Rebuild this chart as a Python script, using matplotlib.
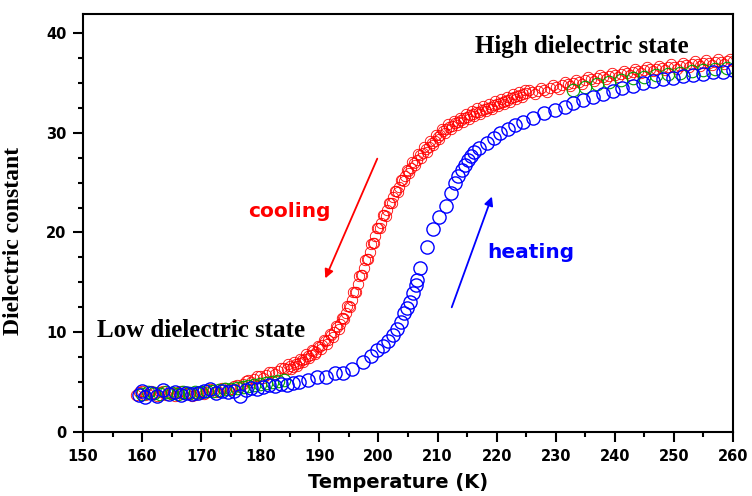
import matplotlib
matplotlib.use('Agg')
import matplotlib.pyplot as plt

# cooling (red), two interleaved sets of points to get the thick band
cool_T = [159, 160, 161, 162, 163, 164, 165, 166, 167, 168, 169, 170, 171, 172, 173, 174, 175, 176, 177, 178,
          179, 180, 181, 182, 183, 184,
          184.5, 185, 185.5, 186, 186.5, 187, 187.5, 188, 188.5, 189, 189.5, 190, 190.5, 191, 191.5, 192, 192.5,
          193, 193.5, 194, 194.5, 195, 195.5, 196, 196.5, 197, 197.5, 198, 198.5, 199, 199.5, 200, 200.5, 201,
          201.5, 202, 202.5, 203, 203.5, 204, 204.5, 205, 205.5, 206, 206.5, 207, 207.5, 208, 208.5, 209, 209.5,
          210, 210.5, 211, 211.5, 212, 212.5, 213, 213.5, 214, 214.5, 215, 215.5, 216, 216.5, 217, 217.5, 218,
          218.5, 219, 219.5, 220, 220.5, 221, 221.5, 222, 222.5, 223, 223.5, 224, 224.5, 225,
          226, 227, 228, 229, 230, 231, 232, 233, 234, 235, 236, 237, 238, 239, 240, 241, 242, 243, 244, 245,
          246, 247, 248, 249, 250, 251, 252, 253, 254, 255, 256, 257, 258, 259, 260]
cool_eps = [3.7, 4.1, 3.8, 3.9, 4.0, 3.7, 3.9, 4.0, 3.8, 3.9, 3.7, 4.1, 4.0, 4.2, 4.0, 4.4, 4.3, 4.7, 4.8, 5.2,
            5.3, 5.6, 5.7, 6.0, 6.1, 6.4,
            6.3, 6.6, 6.5, 6.8, 6.9, 7.2, 7.3, 7.6, 7.7, 8.1, 8.0, 8.5, 8.7, 9.1, 9.2, 9.7, 10.0,
            10.5, 10.8, 11.4, 11.9, 12.6, 13.2, 14.0, 14.8, 15.7, 16.4, 17.3, 18.0, 18.9, 19.6, 20.4, 21.0, 21.8,
            22.3, 23.0, 23.6, 24.2, 24.6, 25.3, 25.7, 26.2, 26.5, 27.0, 27.3, 27.8, 28.0, 28.4, 28.6, 29.0, 29.2,
            29.6, 29.8, 30.2, 30.4, 30.6, 30.7, 31.0, 31.1, 31.3, 31.5, 31.6, 31.8, 31.9, 32.1, 32.1, 32.3, 32.4,
            32.5, 32.6, 32.8, 32.9, 33.0, 33.1, 33.2, 33.3, 33.5, 33.6, 33.7, 33.8, 33.9, 34.0,
            34.1, 34.2, 34.3, 34.5, 34.6, 34.8, 34.9, 35.0, 35.1, 35.3, 35.4, 35.5, 35.6, 35.7, 35.8, 35.9, 36.0,
            36.1, 36.2, 36.3, 36.4, 36.4, 36.5, 36.6, 36.6, 36.7, 36.8, 36.9, 36.9, 37.0, 37.0, 37.1, 37.1, 37.2,
            37.2]
cool_T2 = [159.5, 160.5, 161.5, 162.5, 163.5, 164.5, 165.5, 166.5, 167.5, 168.5, 169.5, 170.5, 171.5, 172.5,
           173.5, 174.5, 175.5, 176.5, 177.5, 178.5, 179.5, 180.5, 181.5, 182.5, 183.5,
           184.75, 185.25, 185.75, 186.25, 186.75, 187.25, 187.75, 188.25, 188.75, 189.25,
           189.75, 190.25, 190.75, 191.25, 191.75, 192.25, 192.75, 193.25, 193.75, 194.25,
           194.75, 195.25, 195.75, 196.25, 196.75, 197.25, 197.75, 198.25, 198.75, 199.25,
           199.75, 200.25, 200.75, 201.25, 201.75, 202.25, 202.75, 203.25, 203.75, 204.25,
           204.75, 205.25, 205.75, 206.25, 206.75, 207.25, 207.75, 208.25, 208.75, 209.25,
           209.75, 210.25, 210.75, 211.25, 211.75, 212.25, 212.75, 213.25, 213.75, 214.25,
           214.75, 215.25, 215.75, 216.25, 216.75, 217.25, 217.75, 218.25, 218.75, 219.25,
           219.75, 220.25, 220.75, 221.25, 221.75, 222.25, 222.75, 223.25, 223.75, 224.25, 224.75,
           225.5, 226.5, 227.5, 228.5, 229.5, 230.5, 231.5, 232.5, 233.5, 234.5, 235.5, 236.5, 237.5, 238.5,
           239.5, 240.5, 241.5, 242.5, 243.5, 244.5, 245.5, 246.5, 247.5, 248.5, 249.5, 250.5, 251.5, 252.5,
           253.5, 254.5, 255.5, 256.5, 257.5, 258.5, 259.5]
cool_eps2 = [4.0, 3.7, 4.1, 3.6, 4.1, 3.9, 3.6, 4.1, 3.9, 3.6, 4.0, 3.8, 4.3, 4.0,
             4.4, 4.2, 4.6, 4.5, 5.1, 5.0, 5.6, 5.4, 6.0, 5.8, 6.4,
             6.8, 6.3, 7.0, 6.6, 7.3, 7.0, 7.8, 7.4, 8.2, 7.8,
             8.6, 8.3, 9.2, 8.8, 9.8, 9.5, 10.6, 10.3, 11.4, 11.3,
             12.6, 12.5, 14.0, 14.0, 15.6, 15.7, 17.2, 17.3, 18.8, 18.9,
             20.4, 20.4, 21.8, 21.7, 23.0, 23.0, 24.2, 24.1, 25.3, 25.2,
             26.3, 26.0, 27.1, 26.8, 27.9, 27.5, 28.6, 28.1, 29.2, 28.8,
             29.8, 29.4, 30.4, 30.0, 30.9, 30.4, 31.2, 30.8, 31.5, 31.1,
             31.9, 31.4, 32.2, 31.7, 32.5, 31.9, 32.7, 32.2, 32.9, 32.4,
             33.2, 32.7, 33.4, 32.9, 33.6, 33.1, 33.9, 33.4, 34.1, 33.6, 34.3,
             34.3, 33.9, 34.5, 34.1, 34.8, 34.4, 35.1, 34.7, 35.3, 34.9, 35.6, 35.2, 35.8, 35.4,
             36.0, 35.6, 36.2, 35.8, 36.4, 36.0, 36.6, 36.2, 36.7, 36.3, 36.9, 36.4, 37.0, 36.6,
             37.2, 36.7, 37.3, 36.8, 37.4, 36.9, 37.4]

# heating (blue)
heat_T = [159.5, 160, 160.5, 161.5, 162.5, 163.5, 164.5, 165.5, 166.5, 167.5, 168.5, 169.5, 170.5, 171.5,
          172.5, 173.5, 174.5, 175.5, 176.5, 177.5, 178.5, 179.5, 180.5, 181.5, 182.5, 183.5, 184.5, 185.5,
          186.5, 188, 189.6, 191.2, 192.7, 194, 195.5, 197.4, 198.7, 199.8, 200.8, 201.6, 202.5, 203.2, 203.9,
          204.3, 204.8, 205.3, 205.8, 206.3, 206.6, 207.1, 208.3, 209.3, 210.2, 211.4, 212.2, 212.9, 213.5,
          214.1, 214.6, 215.1, 215.6, 216.2, 217.0, 218.4, 219.5, 220.6, 221.9, 223.1, 224.5, 226.2, 228.0,
          229.9, 231.6, 233.0, 234.6, 236.3, 238.0, 239.7, 241.3, 243.0, 244.7, 246.4, 248.1, 249.8, 251.5,
          253.2, 254.9, 256.6, 258.3, 260]
heat_eps = [3.7, 4.1, 3.5, 3.9, 3.6, 4.2, 3.8, 4.0, 3.7, 3.9, 3.8, 3.9, 4.1, 4.3,
            3.9, 4.1, 4.0, 4.1, 3.6, 4.2, 4.4, 4.3, 4.5, 4.7, 4.6, 4.8, 4.7, 4.9,
            5.0, 5.2, 5.5, 5.5, 5.9, 5.9, 6.3, 7.0, 7.6, 8.2, 8.6, 9.1, 9.7, 10.3, 11.0,
            11.9, 12.4, 13.0, 13.9, 14.7, 15.2, 16.4, 18.5, 20.3, 21.6, 22.7, 24.0, 25.0, 25.7,
            26.3, 26.8, 27.3, 27.7, 28.1, 28.5, 29.0, 29.5, 30.0, 30.4, 30.8, 31.1, 31.5, 32.0,
            32.3, 32.6, 33.0, 33.3, 33.6, 33.9, 34.2, 34.5, 34.7, 35.0, 35.2, 35.4, 35.5, 35.7,
            35.8, 35.9, 36.1, 36.1, 36.3]

# third run (green), only visible at both ends
green_T = [160, 161, 162, 163, 164, 165, 166, 167, 168, 169, 170, 171, 172, 173, 174, 175, 176, 177, 178,
           179, 180, 181, 182, 183, 184,
           233, 235, 237, 239, 241, 243, 245, 247, 249, 251, 253, 255, 257, 259]
green_eps = [3.8, 4.0, 3.9, 3.8, 4.0, 3.9, 3.8, 4.0, 3.9, 4.0, 4.0, 4.1, 4.1, 4.2, 4.3, 4.3, 4.4, 4.5, 4.6,
             4.7, 4.8, 4.9, 5.0, 5.1, 5.2,
             34.3, 34.6, 34.9, 35.1, 35.3, 35.5, 35.6, 35.8, 35.9, 36.0, 36.2, 36.3, 36.4, 36.5]

fig = plt.figure(figsize=(7.52, 4.96), dpi=100)
ax = fig.add_axes([0.1104, 0.129, 0.8643, 0.8428])

ax.plot(cool_T, cool_eps, 'o', mfc='none', mec='#ff0000', ms=7.5, mew=0.6)
ax.plot(cool_T2, cool_eps2, 'o', mfc='none', mec='#ff0000', ms=7.5, mew=0.6)
ax.plot(green_T, green_eps, 'o', mfc='none', mec='#00a000', ms=9, mew=0.8)
ax.plot(heat_T, heat_eps, 'o', mfc='none', mec='#0000ff', ms=9.5, mew=1.0)

ax.set_xlim(150, 260)
ax.set_ylim(0, 41.9)
ax.set_xticks(range(150, 261, 10))
ax.set_xticks(range(155, 260, 10), minor=True)
ax.set_yticks([0, 10, 20, 30, 40])
ax.set_yticks([2.5, 5, 7.5, 12.5, 15, 17.5, 22.5, 25, 27.5, 32.5, 35, 37.5], minor=True)
ax.tick_params(which='major', direction='out', length=7, width=1.5, top=False, right=False, pad=5)
ax.tick_params(which='minor', direction='out', length=3.5, width=1.5, top=False, right=False)
for lab in ax.get_xticklabels() + ax.get_yticklabels():
    lab.set_fontfamily('DejaVu Sans')
    lab.set_fontweight('bold')
    lab.set_fontsize(10.5)
for sp in ax.spines.values():
    sp.set_linewidth(1.5)

ax.set_xlabel('Temperature (K)', fontfamily='DejaVu Sans', fontweight='bold', fontsize=14)
ax.xaxis.set_label_coords(0.485, -0.097)
ax.set_ylabel('Dielectric constant', fontfamily='Liberation Serif', fontweight='bold', fontsize=17)
ax.yaxis.set_label_coords(-0.091, 0.457)

ax.text(216.3, 38.0, 'High dielectric state', fontfamily='Liberation Serif', fontweight='bold',
        fontsize=18, ha='left', va='baseline')
ax.text(152.4, 9.5, 'Low dielectric state', fontfamily='Liberation Serif', fontweight='bold',
        fontsize=18, ha='left', va='baseline')
ax.text(177.9, 21.55, 'cooling', color='#ff0000', fontfamily='DejaVu Sans', fontweight='bold',
        fontsize=14.5, ha='left', va='baseline')
ax.text(218.4, 17.4, 'heating', color='#0000ff', fontfamily='DejaVu Sans', fontweight='bold',
        fontsize=14.5, ha='left', va='baseline')

ax.annotate('', xy=(191.0, 15.4), xytext=(199.8, 27.4),
            arrowprops=dict(arrowstyle='-|>', color='#ff0000', lw=1.3, mutation_scale=13,
                            shrinkA=0, shrinkB=0))
ax.annotate('', xy=(219.2, 23.6), xytext=(212.4, 12.5),
            arrowprops=dict(arrowstyle='-|>', color='#0000ff', lw=1.3, mutation_scale=13,
                            shrinkA=0, shrinkB=0))

plt.savefig('out.png', dpi=100)
